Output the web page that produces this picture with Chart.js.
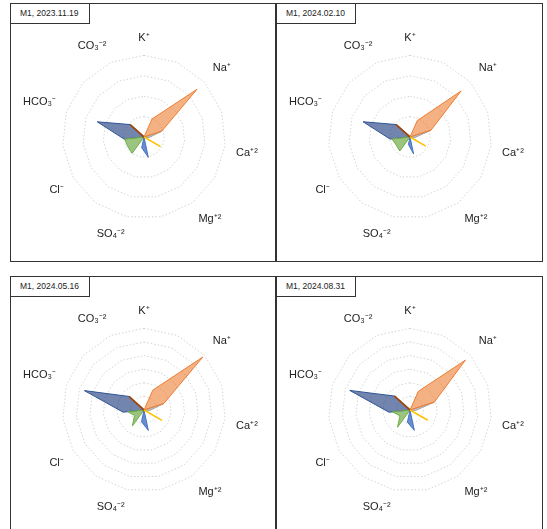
<!DOCTYPE html>
<html>
<head>
<meta charset="utf-8">
<script src="https://cdn.jsdelivr.net/npm/chart.js@4.4.1/dist/chart.umd.min.js"></script>
<style>
    body { margin: 0; background: #fff; width: 547px; height: 529px; overflow: hidden; position: relative; }
    .panel { position: absolute; border: 1px solid #333; box-sizing: border-box; background: #fff; }
    .title {
        position: absolute; left: -1px; top: -1px; width: 80px; height: 21px;
        border: 1px solid #333; box-sizing: border-box; background: #fff;
        font: 8.5px "Liberation Sans", Arial, sans-serif; color: #222;
        line-height: 19px; padding-left: 9px; z-index: 2;
    }
    .wrap { position: absolute; left: 0; top: 0; width: 263px; height: 256px; }
</style>
</head>
<body>

<script>
// 15 spokes, only eight carry an ion name
const categories = ['K⁺', '', 'Na⁺', '', 'Ca⁺²', '', 'Mg⁺²', '', 'SO₄⁻²', '', 'Cl⁻', '', 'HCO₃⁻', '', 'CO₃⁻²'];
const sampleDates = ['M1, 2023.11.19', 'M1, 2024.02.10', 'M1, 2024.05.16', 'M1, 2024.08.31'];
const scaleMax = [40, 40, 60, 60];

// one row per sample, one value per spoke
const naSeries = [
    [0, 9.7, 34.9, 9.1, 0, 0, 0, 0, 0, 0, 0, 0, 0, 0, 0],
    [0, 8.8, 33.7, 10.8, 0, 0, 0, 0, 0, 0, 0, 0, 0, 0, 0],
    [0, 16.0, 58.2, 15.3, 0, 0, 0, 0, 0, 0, 0, 0, 0, 0, 0],
    [0, 15.0, 54.8, 18.8, 0, 0, 0, 0, 0, 0, 0, 0, 0, 0, 0]
];
const caSeries = [
    [0, 0, 0, 9.1, 2.5, 0, 0, 0, 0, 0, 0, 0, 0, 0, 0],
    [0, 0, 0, 10.8, 2.5, 0, 0, 0, 0, 0, 0, 0, 0, 0, 0],
    [0, 0, 0, 15.3, 4, 0, 0, 0, 0, 0, 0, 0, 0, 0, 0],
    [0, 0, 0, 18.8, 4, 0, 0, 0, 0, 0, 0, 0, 0, 0, 0]
];
const mgSeries = [
    [0, 0, 0, 0, 0, 9.4, 0, 0, 0, 0, 0, 0, 0, 0, 0],
    [0, 0, 0, 0, 0, 8.9, 0, 0, 0, 0, 0, 0, 0, 0, 0],
    [0, 0, 0, 0, 0, 15.3, 0, 0, 0, 0, 0, 0, 0, 0, 0],
    [0, 0, 0, 0, 0, 15.1, 0, 0, 0, 0, 0, 0, 0, 0, 0]
];
const so4Series = [
    [0, 0, 0, 0, 0, 0, 0, 10.2, 5.4, 0, 0, 0, 0, 0, 0],
    [0, 0, 0, 0, 0, 0, 0, 8.5, 3.7, 0, 0, 0, 0, 0, 0],
    [0, 0, 0, 0, 0, 0, 0, 15.4, 8.8, 0, 0, 0, 0, 0, 0],
    [0, 0, 0, 0, 0, 0, 0, 15.3, 9.2, 0, 0, 0, 0, 0, 0]
];
const clSeries = [
    [0, 0, 0, 0, 0, 0, 0, 0, 0, 9.9, 9.2, 9.5, 0, 0, 0],
    [0, 0, 0, 0, 0, 0, 0, 0, 0, 8.5, 7.8, 8.9, 0, 0, 0],
    [0, 0, 0, 0, 0, 0, 0, 0, 0, 14.6, 8, 12, 0, 0, 0],
    [0, 0, 0, 0, 0, 0, 0, 0, 0, 15.7, 8.5, 13, 0, 0, 0]
];
const hco3Series = [
    [0, 0, 0, 0, 0, 0, 0, 0, 0, 0, 0, 9.8, 24.1, 9.1, 0],
    [0, 0, 0, 0, 0, 0, 0, 0, 0, 0, 0, 9.8, 24.2, 9.1, 0],
    [0, 0, 0, 0, 0, 0, 0, 0, 0, 0, 0, 15.4, 46.1, 14.9, 0],
    [0, 0, 0, 0, 0, 0, 0, 0, 0, 0, 0, 15.5, 46.6, 15.3, 0]
];
const co3Series = [
    [0, 0, 0, 0, 0, 0, 0, 0, 0, 0, 0, 0, 0, 9.1, 0],
    [0, 0, 0, 0, 0, 0, 0, 0, 0, 0, 0, 0, 0, 9.1, 0],
    [0, 0, 0, 0, 0, 0, 0, 0, 0, 0, 0, 0, 0, 14.9, 0],
    [0, 0, 0, 0, 0, 0, 0, 0, 0, 0, 0, 0, 0, 15.3, 0]
];

const panelBoxes = [
    { left: 10, top: 3, width: 266, height: 259 },
    { left: 276, top: 3, width: 267, height: 259 },
    { left: 10, top: 276, width: 266, height: 260 },
    { left: 276, top: 276, width: 267, height: 260 }
];

function series(label, data, line, fill, width) {
    return {
        label: label,
        data: data,
        borderColor: line,
        backgroundColor: fill || 'transparent',
        fill: !!fill,
        borderWidth: width || 1,
        pointRadius: 0,
        tension: 0
    };
}

sampleDates.forEach(function (date, i) {
    const box = panelBoxes[i];
    const panel = document.createElement('div');
    panel.className = 'panel';
    panel.style.left = box.left + 'px';
    panel.style.top = box.top + 'px';
    panel.style.width = box.width + 'px';
    panel.style.height = box.height + 'px';
    panel.innerHTML = '<div class="title">' + date + '</div><div class="wrap"><canvas></canvas></div>';
    document.body.appendChild(panel);

    // first dataset ends up on top
    const datasets = [
        series('Mg', mgSeries[i], '#FFC000', null, 1.5),
        series('CO3', co3Series[i], '#9E480E', null, 1.8),
        series('SO4', so4Series[i], '#4472C4', 'rgba(68,114,196,0.8)'),
        series('Cl', clSeries[i], '#70AD47', 'rgba(112,173,71,0.7)'),
        series('Na', naSeries[i], '#ED7D31', 'rgba(237,125,49,0.6)'),
        series('Ca', caSeries[i], '#A5A5A5', 'rgba(165,165,165,0.7)'),
        series('HCO3', hco3Series[i], '#2F5597', 'rgba(38,68,130,0.65)')
    ];

    new Chart(panel.querySelector('canvas'), {
        type: 'radar',
        data: { labels: categories, datasets: datasets },
        options: {
            responsive: true,
            maintainAspectRatio: false,
            animation: false,
            layout: { padding: { left: 8, right: 12, top: 11, bottom: 3 } },
            plugins: { legend: { display: false }, tooltip: { enabled: false } },
            scales: {
                r: {
                    min: 0,
                    max: scaleMax[i],
                    ticks: { display: false, stepSize: 10 },
                    angleLines: { display: false },
                    grid: { color: '#d4d4d4', lineWidth: 1 },
                    border: { dash: [1.5, 2] },
                    pointLabels: {
                        padding: 11,
                        color: '#222',
                        font: { family: '"Liberation Sans", Arial, sans-serif', size: 11 }
                    }
                }
            }
        }
    });
});
</script>
</body>
</html>
